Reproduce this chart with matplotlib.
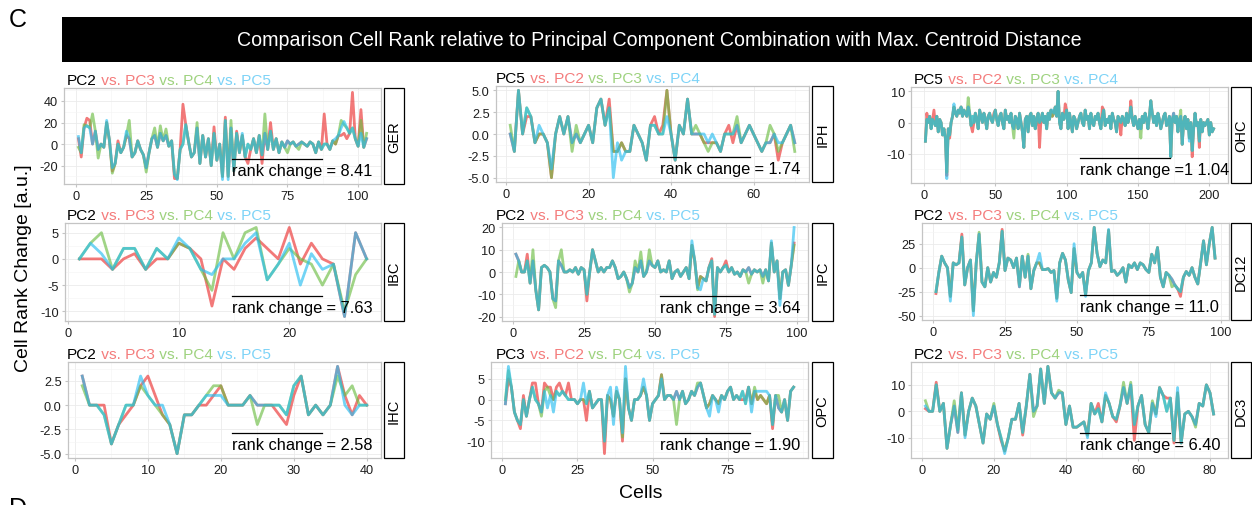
import numpy as np
import matplotlib
matplotlib.use("Agg")
import matplotlib.pyplot as plt
from matplotlib.patches import Rectangle
from matplotlib.lines import Line2D
from matplotlib.ticker import AutoMinorLocator

plt.rcParams['font.family'] = ['Liberation Sans', 'DejaVu Sans']

# rank change per cell: shared line + the cells where one comparison differs
ger_base = [5, -8, 15, 17, 15, 0, 12, -5, 0, -3,
            20, 3, -22, -18, 0, -8, -3, 8, 5, -12,
            -8, 3, -5, -10, -22, -8, 5, 8, -3, 10,
            3, 8, -2, 3, -28, -32, -5, 0, 18, 2,
            -12, -8, 15, -18, 8, -12, 5, -20, 10, -15,
            0, -30, 22, -30, 15, -25, 10, -8, 8, -12,
            0, -5, 5, -8, 8, -10, 10, -5, 12, -5,
            5, -8, 2, -3, 3, 0, 2, -2, 0, 2,
            0, -2, 2, 0, -8, 2, -5, 0, 0, -5,
            3, 0, 8, 15, 18, 15, 10, 15, 5, -2,
            10, -3, 5]
ger_red = {2: -12, 4: 24, 5: 22, 13: -25, 15: 3, 35: -32, 38: 37, 49: 16, 53: 25, 57: 12,
           61: -18, 66: -18, 69: 20, 88: 28, 94: 8, 95: 10, 96: 5, 98: 48, 101: 32}
ger_green = {1: -3, 3: 18, 6: 28, 8: -13, 13: -27, 19: 22, 25: -26, 28: 15, 30: 17, 32: 14,
             43: 20, 55: 22, 67: 28, 75: -8, 79: -5, 94: 22, 101: 22, 103: 10}
ger_blue = {1: 7, 11: 22, 18: 12, 36: -33, 52: -33, 54: -33, 59: 10, 92: 5, 95: 21}

iph_base = [0, -2, 5, 0, 3, 2, -1, 0, 0, -1,
            -4, 0, 2, 0, 2, -1, 0, -1, 0, 1,
            -1, 3, 4, 1, 3, -2, -2, -1, -2, -2,
            1, 0, -1, -3, 1, 1, 0, 0, 2, 0,
            -3, 1, 0, 4, 0, 0, 0, -1, -1, -1,
            -1, -2, 0, 0, 0, 1, -1, 0, 1, 0,
            -1, -2, -1, -1, 0, -1, -1, 0, 1, -1]
iph_red = {5: 2, 11: -5, 25: 4, 36: 2, 38: 1, 39: 5, 54: 1, 55: -1, 66: -3}
iph_green = {1: 1, 11: -5, 16: -2, 17: 1, 39: 5, 46: 1, 49: -2, 56: 2, 64: 1, 66: -2, 70: -2}
iph_blue = {8: 1, 26: -5, 27: -1, 28: -3, 48: 0, 50: 0}

ohc_base = [-6, 1, 0, 2, -2, 1, 0, -1, 2, -3,
            1, 0, -4, -2, -5, -17, -2, -4, 0, 2,
            5, 3, 2, 4, 3, 5, 2, 4, 3, 2,
            5, 3, -1, 2, 0, 3, 1, -2, 4, 2,
            0, 3, 1, -2, 2, 3, 1, 0, 2, 4,
            1, -1, 2, 3, 0, -2, 4, 1, 2, 0,
            3, -1, -2, 2, 1, -2, 3, 0, -3, -8,
            1, 2, -3, 2, 3, -1, 2, -2, 1, 3,
            0, 1, 3, 0, 2, -2, 3, 1, 4, 2,
            3, 5, 2, 10, 0, -2, 3, 1, 2, 4,
            -2, 3, 0, -3, 2, 1, -2, 0, 2, 3,
            0, -1, 4, 1, 2, -2, 3, 0, -1, 2,
            1, 3, 0, -2, 2, 4, -1, 1, 0, 2,
            -2, 3, 1, 0, -3, 2, 1, 0, 2, 1,
            -1, 3, 0, 2, 5, 1, -1, 2, 0, -2,
            1, -2, 2, 0, 3, 1, -2, 2, 7, 3,
            0, 2, -1, 3, 1, -2, 0, 2, 3, -1,
            0, 2, -11, 1, 3, 0, 2, -3, 1, 2,
            -7, 0, 2, -2, 1, -5, 0, -9, -2, 3,
            -1, 0, -6, 1, -3, 0, -1, 0, 1, -4,
            0, -3, -2]
ohc_red = {2: 3, 7: 4, 18: -5, 34: -3, 49: 3, 81: -8, 99: 6, 125: 5, 138: -4, 145: 7,
           188: -11, 193: -8}
ohc_green = {16: -16, 31: 8, 63: -5, 152: -5, 175: 2, 180: 4}
ohc_blue = {16: -18, 21: 6, 90: 4, 186: -6}

ibc_red = [0, 0, 0, -2, 0, 1, -2, 0, 0, 3, 2, 0, -9, 0, -2, 2, 4, 2, 0, 6,
           -1, 3, 0, -1, -11, 5, 0]
ibc_green = [0, 3, 5, -2, 2, 2, -2, 2, 0, 3, 2, -2, -6, 5, 0, 5, 6, -4, -1, 2,
             0, -1, -5, -1, -10, -3, 0]
ibc_blue = [0, 3, 1, -2, 2, 2, -2, 2, 0, 4, 2, -2, -3, 0, 0, 3, 5, -4, -1, 3,
            -5, 1, -2, -1, -11, 5, 0]

ipc_base = [8, 5, 0, 0, 5, -5, 5, -8, -17, 2,
            3, 2, 0, -12, -13, 5, 3, 0, 0, 1,
            0, 2, -1, 2, 1, -10, 0, 10, 5, 0,
            2, 0, 2, 2, 5, 2, -3, -2, 0, -3,
            -7, -5, 2, 0, 5, -2, 0, 5, 3, 2,
            5, 0, 1, 0, 5, -3, 0, 1, -2, 0,
            2, -3, 12, 5, -7, -2, -3, -4, 2, 5,
            -19, 2, 0, 2, 3, 0, 2, -1, 0, -2,
            1, 0, 2, -1, 1, 0, 1, -2, 1, -4,
            13, 0, 5, -12, 0, 1, -6, 3, 12]
ipc_red = {5: 8, 26: -13, 70: 6, 71: -20, 75: 5, 99: 13}
ipc_green = {1: -2, 7: 10, 15: -16, 17: 10, 41: -9, 43: 5, 45: 9, 48: 10, 65: -8, 83: -5, 88: -5}
ipc_blue = {9: -17, 63: 14, 66: -8, 91: 14, 94: -15, 99: 20}

dc12_base = [-25, -5, 12, 5, 0, -30, 5, 3, 5, 32,
             -18, 0, 8, -45, 5, 35, -15, -20, 0, -15,
             -5, -10, 5, 38, -3, 10, 8, 0, 10, -20,
             12, -10, 12, -22, -3, 5, 5, -2, -2, -1,
             -5, -3, -32, 5, 15, 8, -13, -26, 20, -5,
             -10, -5, -28, -3, 5, 42, 15, 1, 8, 5,
             39, -4, -3, -8, -5, 0, -15, 3, 0, 5,
             -2, 5, 3, -2, -5, 14, 5, 21, -10, -20,
             -5, -8, -12, -18, -22, -25, -10, -4, -8, 0,
             -10, -17, 5, 28, 3, 25, 42, 10]
dc12_red = {1: -27, 10: 35, 24: 40, 31: 12, 56: 42, 86: -30}
dc12_green = {16: 37, 30: -18, 33: 14, 83: -20}
dc12_blue = {6: -35, 14: -50, 37: 15, 43: -35, 49: 25, 53: -30, 61: 40}

ihc_red = [3, 0, 0, 0, -4, -2, -1, 0, 2, 3, 1, -1, -2, -5, -1, -1, 0, 0, 1, 2,
           0, 0, 0, 1, 0, 0, 0, -1, -2, 1, 3, -1, 0, -1, 0, 4, 1, -1, 1, 0]
ihc_green = [2, 0, 0, -1, -4, -2, 0, 0, 2, 1, 0, -1, -2, -5, -1, -1, 0, 1, 2, 2,
             0, 0, 0, 1, -2, 0, 0, 0, -1, 2, 3, -1, 0, -1, 0, 3, 1, 2, 0, 0]
ihc_blue = [3, 0, 0, -1, -4, -2, 0, 0, 3, 1, 0, 0, -2, -5, -1, -1, 0, 1, 1, 1,
            0, 0, 0, 1, 0, 0, 0, 0, -1, 2, 3, -1, 0, -1, 0, 4, 0, -1, 0, 0]

opc_base = [-1, 7, 3, -3, -5, -6, 0, -4, 0, 3,
            0, -1, -3, 2, 3, 1, 0, 2, 1, 2,
            1, 0, 0, 0, -1, 0, 0, -1, 2, -2,
            -1, 0, 0, -10, 1, 0, -4, 2, 0, -8,
            5, -2, -5, 0, 0, 1, 3, 1, -5, -1,
            0, 1, 5, 0, 1, 1, 0, 2, 0, 2,
            -1, 0, 2, 1, 3, 4, 1, -2, -1, 1,
            0, -1, 1, 0, 2, 3, 0, 1, 0, 2,
            -1, 3, -1, 2, 0, 1, 0, -1, 1, -6,
            1, -2, -3, 0, -5, 2, 3]
opc_red = {2: 5, 6: -7, 7: 1, 10: 4, 11: 4, 14: 4, 16: 3, 18: 3, 19: 4, 22: 4, 28: -5,
           34: -13, 40: -10, 53: 6, 80: 0, 81: 0, 90: -7}
opc_green = {1: 0, 13: -4, 40: -9, 53: 6, 58: -6, 60: 2, 65: 4, 84: 3, 92: 1}
opc_blue = {2: 8, 15: -2, 17: -3, 27: 4, 36: 3, 37: -6, 38: 3, 41: 8, 47: 5, 69: -4,
            72: -3, 82: 3, 83: -3, 85: 2, 86: 2, 87: 2, 88: 2}

dc3_base = [2, 0, 0, 10, 0, 3, -14, -5, 2, -8,
            7, -9, 0, 5, 2, -5, -12, -1, -3, 2,
            -5, -10, -15, -10, -3, -3, 3, -8, 2, 14,
            0, 2, 16, 3, 17, 7, 5, 7, 7, -5,
            2, -6, -6, -5, -4, -9, 3, -1, 1, -4,
            6, 3, -2, -3, 2, 9, 3, 10, -5, 2,
            6, -5, -8, 3, -1, 9, 6, 0, 5, -11,
            7, -12, -1, 0, -2, -5, 3, 2, 10, 7,
            -1]
dc3_red = {1: 1, 4: 11, 22: -11, 28: -9, 49: 3, 54: -4, 59: -11, 68: 5, 70: -12}
dc3_green = {1: 4, 9: 4, 10: -7, 20: 3, 31: -2, 38: 8, 47: 3, 56: 11, 58: 11, 64: 4, 76: -6}
dc3_blue = {12: -10, 23: -16, 46: -10, 51: 7, 65: -2, 71: 9}

rank_values = ['8.41', '1.74', '1 1.04', '7.63', '3.64', '11.0', '2.58', '1.90', '6.40']
cell_types = ['GER', 'IPH', 'OHC', 'IBC', 'IPC', 'DC12', 'IHC', 'OPC', 'DC3']
pc_titles = [('PC2', 'PC3', 'PC4', 'PC5'), ('PC5', 'PC2', 'PC3', 'PC4'),
             ('PC5', 'PC2', 'PC3', 'PC4'), ('PC2', 'PC3', 'PC4', 'PC5'),
             ('PC2', 'PC3', 'PC4', 'PC5'), ('PC2', 'PC3', 'PC4', 'PC5'),
             ('PC2', 'PC3', 'PC4', 'PC5'), ('PC3', 'PC2', 'PC4', 'PC5'),
             ('PC2', 'PC3', 'PC4', 'PC5')]
y_ticks = [[-20, 0, 20, 40], [-5, -2.5, 0, 2.5, 5], [-10, 0, 10],
           [-10, -5, 0, 5], [-20, -10, 0, 10, 20], [-50, -25, 0, 25],
           [-5, -2.5, 0, 2.5], [-10, -5, 0, 5], [-10, 0, 10]]
x_ticks = [[0, 25, 50, 75, 100], [0, 20, 40, 60], [0, 50, 100, 150, 200],
           [0, 10, 20], [0, 25, 50, 75, 100], [0, 25, 50, 75, 100],
           [0, 10, 20, 30, 40], [0, 25, 50, 75], [0, 20, 40, 60, 80]]


def series(base, changes):
    s = list(base)
    for cell, v in changes.items():
        s[cell - 1] = v
    return s


panel_series = [
    (series(ger_base, ger_red), series(ger_base, ger_green), series(ger_base, ger_blue)),
    (series(iph_base, iph_red), series(iph_base, iph_green), series(iph_base, iph_blue)),
    (series(ohc_base, ohc_red), series(ohc_base, ohc_green), series(ohc_base, ohc_blue)),
    (ibc_red, ibc_green, ibc_blue),
    (series(ipc_base, ipc_red), series(ipc_base, ipc_green), series(ipc_base, ipc_blue)),
    (series(dc12_base, dc12_red), series(dc12_base, dc12_green), series(dc12_base, dc12_blue)),
    (ihc_red, ihc_green, ihc_blue),
    (series(opc_base, opc_red), series(opc_base, opc_green), series(opc_base, opc_blue)),
    (series(dc3_base, dc3_red), series(dc3_base, dc3_green), series(dc3_base, dc3_blue)),
]

# layout in pixels (left, top, right, bottom)
W, H = 1252, 506
ax_boxes = [(64, 89, 381, 185), (496, 87, 809, 183), (911, 88, 1228, 184),
            (65, 224, 381, 322), (502, 224, 808, 322), (922, 224, 1229, 321),
            (68, 363, 381, 459), (491, 363, 808, 459), (911, 363, 1228, 459)]
strip_x = [(384, 404), (812, 833), (1231, 1251)]
title_x = [67, 496, 914]
rank_x = [232, 660, 1080]

LINE_COLORS = ['#EB3232', '#6EBE46', '#28BEF0']
TEXT_COLORS = ['#F47C7C', '#9ED27E', '#7DD3F7']


def fx(px):
    return px / W


def fy(py):
    return 1 - py / H


fig = plt.figure(figsize=(W / 100, H / 100), dpi=100)
renderer = fig.canvas.get_renderer()

# header
fig.add_artist(Rectangle((fx(62), fy(63)), (W - 62) / W, 45 / H, transform=fig.transFigure,
                         facecolor='black', edgecolor='none'))
fig.text(fx(659), fy(41), 'Comparison Cell Rank relative to Principal Component Combination with Max. Centroid Distance',
         color='white', fontsize=14.1, ha='center', va='center')
fig.text(fx(9), fy(27), 'C', fontsize=18, va='baseline')
fig.text(fx(9), fy(516), 'D', fontsize=18, va='baseline')

for i in range(9):
    col = i % 3
    l, t, r, b = ax_boxes[i]
    ax = fig.add_axes([fx(l), fy(b), (r - l) / W, (b - t) / H])
    lines = panel_series[i]
    n = len(lines[0])
    cells = np.arange(1, n + 1)
    for s, c in zip(lines, LINE_COLORS):
        ax.plot(cells, s, color=c, lw=2.0, alpha=0.65)

    lo = min(min(s) for s in lines)
    hi = max(max(s) for s in lines)
    pad = 0.05 * (hi - lo)
    ax.set_xticks(x_ticks[i])
    ax.set_yticks(y_ticks[i])
    if i in (1, 6):
        ax.set_yticklabels(['{:.1f}'.format(v) for v in y_ticks[i]])
    else:
        ax.set_yticklabels([str(v) for v in y_ticks[i]])
    ax.set_xlim(1 - 0.05 * (n - 1), n + 0.05 * (n - 1))
    ax.set_ylim(lo - pad, hi + pad)
    ax.xaxis.set_minor_locator(AutoMinorLocator(2))
    ax.yaxis.set_minor_locator(AutoMinorLocator(2))
    ax.grid(which='major', color='#EBEBEB', lw=0.6)
    ax.grid(which='minor', color='#F4F4F4', lw=0.4)
    ax.set_axisbelow(True)
    for sp in ax.spines.values():
        sp.set_color('#C4C4C4')
        sp.set_linewidth(0.9)
    ax.tick_params(which='major', labelsize=9.2, length=2, color='#C4C4C4',
                   labelcolor='#1E1E1E', pad=2.5)
    ax.tick_params(which='minor', length=0)

    # strip
    sx0, sx1 = strip_x[col]
    fig.add_artist(Rectangle((fx(sx0), fy(b)), (sx1 - sx0) / W, (b - t) / H,
                             transform=fig.transFigure, facecolor='white',
                             edgecolor='black', lw=0.9))
    fig.text(fx((sx0 + sx1) / 2), fy((t + b) / 2), cell_types[i], rotation=90,
             fontsize=10.5, ha='center', va='center')

    # panel title
    x = title_x[col]
    pcs = pc_titles[i]
    parts = [(pcs[0], 'black')] + [(' vs. ' + p, c) for p, c in zip(pcs[1:], TEXT_COLORS)]
    for s, c in parts:
        tt = fig.text(fx(x), fy(t - 4), s, color=c, fontsize=11.1, ha='left', va='baseline')
        x = tt.get_window_extent(renderer).x1

    # mean rank change
    yb = b - 9
    tr = fig.text(fx(rank_x[col]), fy(yb), 'rank change', fontsize=11.8, ha='left', va='baseline')
    bb = tr.get_window_extent(renderer)
    fig.add_artist(Line2D([fx(bb.x0), fx(bb.x1)], [fy(yb - 16), fy(yb - 16)],
                          transform=fig.transFigure, color='black', lw=0.9))
    sep = ' =' if i == 2 else ' = '
    fig.text(fx(bb.x1), fy(yb), sep + rank_values[i], fontsize=11.8, ha='left', va='baseline')

fig.text(fx(24), fy(268), 'Cell Rank Change [a.u.]', rotation=90, fontsize=14,
         ha='center', va='center')
fig.text(fx(641), fy(498), 'Cells', fontsize=14, ha='center', va='baseline')

fig.savefig('out.png', dpi=100)
